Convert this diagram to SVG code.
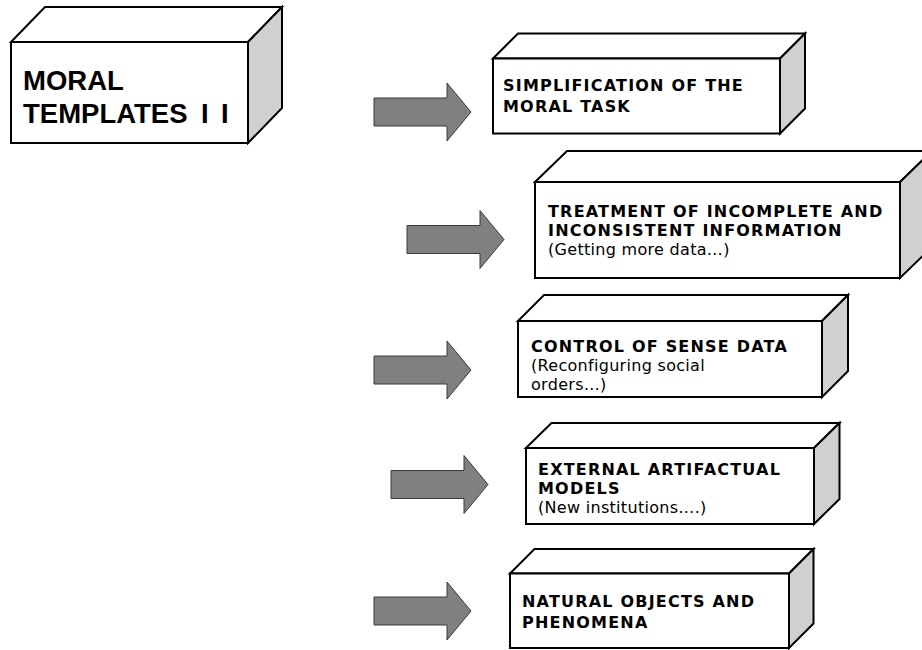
<svg xmlns="http://www.w3.org/2000/svg" width="922" height="650" viewBox="0 0 922 650">
<style>
.face{fill:#ffffff;stroke:#000000;stroke-width:2;stroke-linejoin:miter}
.side{fill:#d0d0d0;stroke:#000000;stroke-width:2;stroke-linejoin:miter}
.arrow{fill:#808080;stroke:#3a3a3a;stroke-width:1}
.b{font-family:"DejaVu Sans",Verdana,sans-serif;font-weight:bold;font-size:16px;letter-spacing:1.2px;fill:#000}
.r{font-family:"DejaVu Sans",Verdana,sans-serif;font-size:16px;letter-spacing:0.3px;fill:#000}
.big{font-family:"Liberation Sans",Arial,sans-serif;font-weight:bold;font-size:27.5px;fill:#000}
</style>
<defs>
<path id="arr" d="M0,-14 H73 V-29 L97,0 L73,29 V14 H0 Z"/>
</defs>
<rect width="922" height="650" fill="#ffffff"/>

<g id="connectors">
<use href="#arr" class="arrow" transform="translate(374,112)"/>
<use href="#arr" class="arrow" transform="translate(407,239.5)"/>
<use href="#arr" class="arrow" transform="translate(374,370)"/>
<use href="#arr" class="arrow" transform="translate(391,484.5)"/>
<use href="#arr" class="arrow" transform="translate(374,611)"/>
</g>

<g id="moral-templates">
<polygon class="face" points="11,42 45,7 282,7 248,42"/>
<polygon class="side" points="248,42 282,7 282,108 248,143"/>
<rect class="face" x="11" y="42" width="237" height="101"/>
<text class="big" x="23" y="90">MORAL</text>
<text class="big" x="23" y="123">TEMPLATES <tspan x="201 221">II</tspan></text>
</g>

<g id="simplification">
<polygon class="face" points="493,58.5 518,33.5 805,33.5 780,58.5"/>
<polygon class="side" points="780,58.5 805,33.5 805,108.5 780,133.5"/>
<rect class="face" x="493" y="58.5" width="287" height="75"/>
<text class="b" x="503" y="91">SIMPLIFICATION OF THE</text>
<text class="b" x="503" y="112">MORAL TASK</text>
</g>

<g id="treatment">
<polygon class="face" points="535,182 567,151 932,151 900,182"/>
<polygon class="side" points="900,182 932,151 932,247 900,278"/>
<rect class="face" x="535" y="182" width="365" height="96"/>
<text class="b" x="548" y="217">TREATMENT OF INCOMPLETE AND</text>
<text class="b" x="548" y="236">INCONSISTENT INFORMATION</text>
<text class="r" x="548" y="255">(Getting more data…)</text>
</g>

<g id="control">
<polygon class="face" points="518,321 544,295 848,295 822,321"/>
<polygon class="side" points="822,321 848,295 848,371 822,397"/>
<rect class="face" x="518" y="321" width="304" height="76"/>
<text class="b" x="531" y="352">CONTROL OF SENSE DATA</text>
<text class="r" x="531" y="371">(Reconfiguring social</text>
<text class="r" x="531" y="390">orders…)</text>
</g>

<g id="external">
<polygon class="face" points="526,448 551.5,423 839.5,423 814,448"/>
<polygon class="side" points="814,448 839.5,423 839.5,499 814,524"/>
<rect class="face" x="526" y="448" width="288" height="76"/>
<text class="b" x="538" y="475">EXTERNAL ARTIFACTUAL</text>
<text class="b" x="538" y="494">MODELS</text>
<text class="r" x="538" y="513">(New institutions….)</text>
</g>

<g id="natural">
<polygon class="face" points="510,573.5 534.5,549 813.5,549 789,573.5"/>
<polygon class="side" points="789,573.5 813.5,549 813.5,623.5 789,648"/>
<rect class="face" x="510" y="573.5" width="279" height="74.5"/>
<text class="b" x="522" y="607">NATURAL OBJECTS AND</text>
<text class="b" x="522" y="628">PHENOMENA</text>
</g>
</svg>
